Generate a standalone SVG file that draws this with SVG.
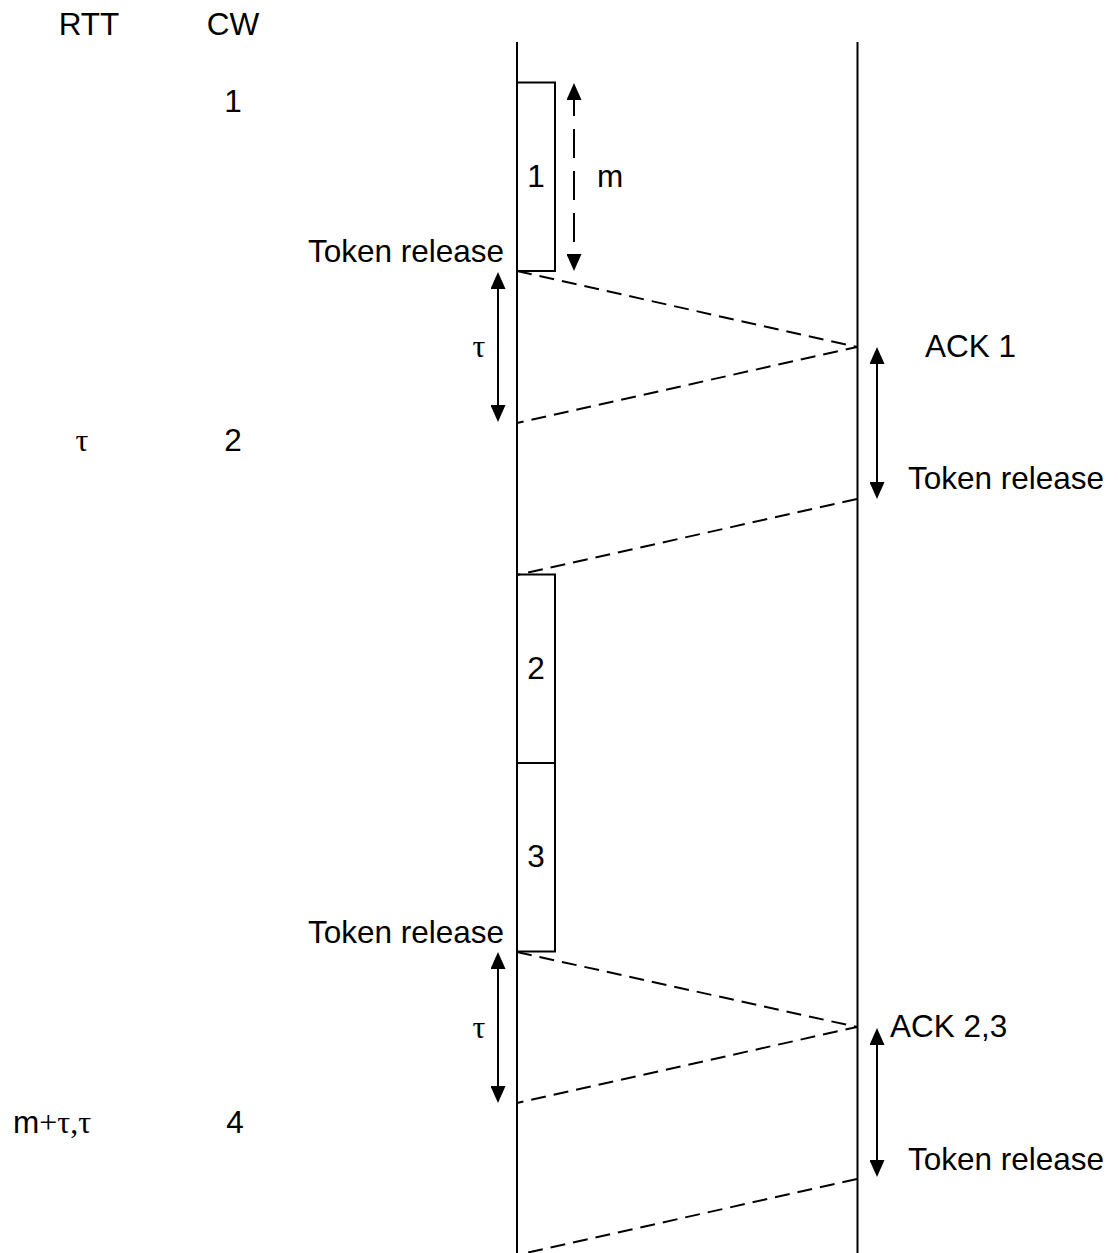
<svg xmlns="http://www.w3.org/2000/svg" width="1118" height="1253" viewBox="0 0 1118 1253">
  <style>
    .txt { font-family: "Liberation Sans", Arial, sans-serif; font-size: 31.5px; fill: #000; }
    .greek { font-family: "Liberation Serif", "Times New Roman", serif; font-size: 32px; fill: #000; }
    .life { stroke: #000; stroke-width: 2; fill: none; }
    .frame { stroke: #000; stroke-width: 2; fill: #fff; }
    .msg { stroke: #000; stroke-width: 2; fill: none; stroke-dasharray: 15 8; }
    .span { stroke: #000; stroke-width: 2; fill: none; marker-start: url(#head); marker-end: url(#head); }
    .span-dash { stroke-dasharray: 29 13; }
  </style>
  <defs>
    <marker id="head" viewBox="0 0 17 15" markerWidth="17" markerHeight="15" refX="13" refY="7.5" markerUnits="userSpaceOnUse" orient="auto-start-reverse">
      <path d="M0,0 L17,7.5 L0,15 z" fill="#000"/>
    </marker>
  </defs>

  <!-- column headings -->
  <g id="headings">
    <text class="txt" x="89" y="35" text-anchor="middle">RTT</text>
    <text class="txt" x="233" y="35" text-anchor="middle">CW</text>
  </g>

  <!-- per-round RTT / window values -->
  <g id="round-1">
    <text class="txt" x="233" y="112" text-anchor="middle">1</text>
  </g>
  <g id="round-2">
    <text class="greek" x="82" y="451" text-anchor="middle">τ</text>
    <text class="txt" x="233" y="451" text-anchor="middle">2</text>
  </g>
  <g id="round-3">
    <text x="13" y="1133"><tspan class="txt">m</tspan><tspan class="greek">+τ,τ</tspan></text>
    <text class="txt" x="235" y="1133" text-anchor="middle">4</text>
  </g>

  <!-- sender and receiver timelines -->
  <g id="sender">
    <line class="life" x1="517" y1="42" x2="517" y2="1253"/>
  </g>
  <g id="receiver">
    <line class="life" x1="857.5" y1="42" x2="857.5" y2="1253"/>
  </g>

  <!-- transmitted segments -->
  <g id="segment-1">
    <rect class="frame" x="517" y="82.5" width="38" height="188.5"/>
    <text class="txt" x="536" y="187" text-anchor="middle">1</text>
  </g>
  <g id="segment-2">
    <rect class="frame" x="517" y="574.5" width="38" height="188.5"/>
    <text class="txt" x="536" y="679" text-anchor="middle">2</text>
  </g>
  <g id="segment-3">
    <rect class="frame" x="517" y="763" width="38" height="188.5"/>
    <text class="txt" x="536" y="867" text-anchor="middle">3</text>
  </g>

  <!-- event labels -->
  <g id="sender-release-1">
    <text class="txt" x="504" y="262" text-anchor="end">Token release</text>
  </g>
  <g id="sender-release-2">
    <text class="txt" x="504" y="943" text-anchor="end">Token release</text>
  </g>
  <g id="ack-1">
    <text class="txt" x="925" y="357">ACK 1</text>
  </g>
  <g id="receiver-release-1">
    <text class="txt" x="908" y="489">Token release</text>
  </g>
  <g id="ack-23">
    <text class="txt" x="890" y="1037">ACK 2,3</text>
  </g>
  <g id="receiver-release-2">
    <text class="txt" x="908" y="1170">Token release</text>
  </g>
  <g id="interval-labels">
    <text class="txt" x="597" y="187">m</text>
    <text class="greek" x="479" y="357" text-anchor="middle">τ</text>
    <text class="greek" x="479" y="1038" text-anchor="middle">τ</text>
  </g>

  <!-- messages and interval arrows -->
  <g id="connectors">
    <polyline class="msg" points="517,271 857,347 517,423"/>
    <line class="msg" x1="857" y1="499" x2="517" y2="575"/>
    <polyline class="msg" points="517,952 857,1027 517,1103"/>
    <line class="msg" x1="857" y1="1179" x2="517" y2="1255"/>

    <line class="span span-dash" x1="574" y1="87" x2="574" y2="267"/>
    <line class="span" x1="498" y1="276" x2="498" y2="418"/>
    <line class="span" x1="877" y1="351" x2="877" y2="495"/>
    <line class="span" x1="498" y1="956" x2="498" y2="1099"/>
    <line class="span" x1="877" y1="1032" x2="877" y2="1173"/>
  </g>
</svg>
